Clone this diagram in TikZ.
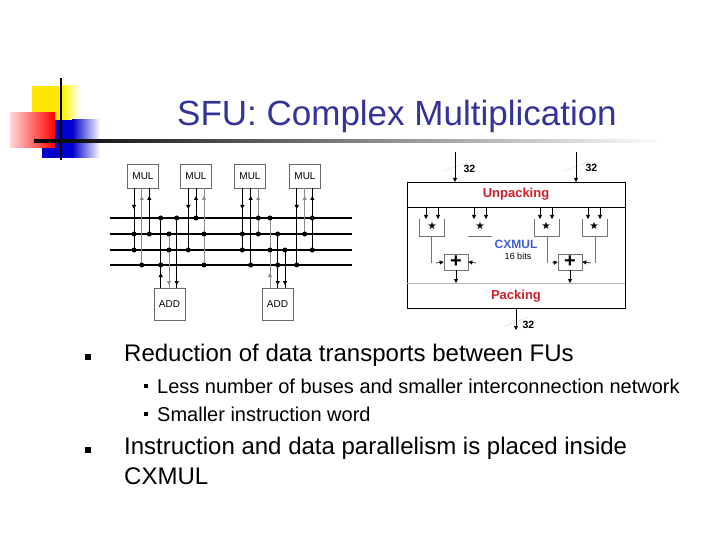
\documentclass[tikz,border=0pt]{standalone}
\usepackage{fontspec}
\setmainfont{Liberation Sans}
\usepackage{amssymb}
\usetikzlibrary{arrows.meta}
\definecolor{ttl}{HTML}{333399}
\definecolor{redt}{HTML}{CC1F2A}
\definecolor{bluet}{HTML}{3F5FCF}
\begin{document}
\begin{tikzpicture}[x=1pt,y=-1pt,
  box/.style={draw=black!60,line width=0.6pt,fill=white},
  bus/.style={line width=1.1pt},
  wire/.style={line width=0.8pt},
  gwire/.style={line width=0.6pt,black!45},
  dot/.style={circle,fill=black,inner sep=0pt,minimum size=5pt},
  ar/.style={-{Triangle[length=4pt,width=4pt]}},
  cx/.style={line width=0.8pt},
  thin/.style={draw=black!55,line width=0.5pt},
  bul/.style={fill=black,inner sep=0pt,minimum size=5.5pt},
  txt/.style={anchor=west,inner sep=0pt}]
\useasboundingbox (0,0) rectangle (720,540);
% decoration
\fill[yellow!90!orange] (32,86) rectangle (62,120);
\shade[left color=yellow!90!orange,right color=white] (62,86) rectangle (80,120);
\fill[blue!80!black] (42,120) rectangle (72,158);
\shade[left color=blue!80!black,right color=white] (72,120) rectangle (100,158);
\shade[left color=red!15,right color=red] (10,113) rectangle (55,148);
\draw[line width=2.2pt] (61,78) -- (61,160);
\shade[left color=black,right color=white] (34,140) rectangle (665,142.5);
\node[font=\fontsize{35}{38}\selectfont,text=ttl] (title) at (397,116) {SFU: Complex Multiplication};
% ===== left diagram
\foreach \n/\x in {m1/143,m2/196,m3/250,m4/305}
  \node[box,minimum width=31pt,minimum height=24pt,font=\fontsize{10}{12}\selectfont] (\n) at (\x,176) {MUL};
\foreach \n/\x in {a1/169.5,a2/277.5}
  \node[box,minimum width=31pt,minimum height=32pt,font=\fontsize{10}{12}\selectfont] (\n) at (\x,304) {ADD};
\foreach \y/\w in {218/1.6pt,234/1.1pt,250/1.6pt,265/1.1pt}
  \draw[line width=\w] (110,\y) -- (352,\y);
\foreach \x/\b/\s in {134/250/wire,188.3/250/wire,242.3/250/wire,296.7/265/wire}{
  \draw[\s] (\x,188) -- (\x,\b);
  \draw[ar,\s] (\x,200) -- (\x,209);}
\foreach \x/\b/\s in {141.7/265/gwire,149.3/234/wire,196/218/wire,204/265/gwire,250.7/265/wire,258.3/234/gwire,304.7/234/gwire,312.3/250/wire}{
  \draw[\s] (\x,188) -- (\x,\b);
  \draw[ar,\s] (\x,204) -- (\x,196);}
\foreach \x/\t/\s in {160.7/218/wire,270/218/gwire}{
  \draw[\s] (\x,\t) -- (\x,288);
  \draw[ar,\s] (\x,281) -- (\x,273);}
\foreach \x/\t/\s in {169/234/gwire,176.7/218/wire,277.7/234/wire,285/250/wire}{
  \draw[\s] (\x,\t) -- (\x,288);
  \draw[ar,\s] (\x,276) -- (\x,285);}
\foreach \x/\y in {134/234,134/250,141.7/265,149.3/234,160.7/218,160.7/265,169/234,169/250,176.7/218,188.3/250,196/218,204/234,204/265,
  242.3/234,242.3/250,250.7/265,258.3/218,258.3/234,270/218,270/250,277.7/234,277.7/265,285/250,296.7/265,304.7/234,312.3/218,312.3/250}
  \node[dot] at (\x,\y) {};
% ===== CXMUL
\draw[line width=0.9pt] (407,182) rectangle (625,308);
\draw[line width=0.9pt] (407,207) -- (625,207);
\draw[black!30,line width=0.5pt] (407,283) -- (625,283);
\node[text=redt,font=\bfseries\fontsize{13}{15}\selectfont] (unp) at (516,194) {Unpacking};
\node[text=redt,font=\bfseries\fontsize{13}{15}\selectfont] (pck) at (516,296) {Packing};
\node[text=bluet,font=\bfseries\fontsize{12}{14}\selectfont,inner sep=0pt] (cxm) at (516,244) {CXMUL};
\node[font=\fontsize{9}{10}\selectfont,inner sep=0pt] (bits) at (518,256) {16 bits};
\coordinate (i1) at (455,152); \coordinate (i2) at (576,152); \coordinate (o1) at (516,330);
\draw[cx,ar] (i1) -- (455,182);
\draw[cx,ar] (i2) -- (576,182);
\draw[cx,ar] (516,308) -- (o1);
\draw[black!40,densely dotted] (444,171) -- (468,162);
\draw[black!40,densely dotted] (564,171) -- (588,162);
\draw[black!40,densely dotted] (505,326) -- (528,317);
\node[font=\bfseries\fontsize{10.5}{11}\selectfont,anchor=west] (l1) at (460,169) {32};
\node[font=\bfseries\fontsize{10.5}{11}\selectfont,anchor=west] (l2) at (582,168) {32};
\node[font=\bfseries\fontsize{10.5}{11}\selectfont,anchor=west] (l3) at (519,325) {32};
\foreach \x in {419,534,582}
  \draw[thin] (\x,219) -- (\x,236) -- (\x+25,236) -- (\x+25,219);
\draw[thin] (468,236) -- (492,236);
\foreach \c/\x in {s1/432,s2/480,s3/546,s4/594}{
  \node[font=\fontsize{9}{9}\selectfont,inner sep=0pt] (\c) at (\x,226) {$\bigstar$};
  \draw[ar,line width=0.6pt] (\x-6,207) -- (\x-6,219);
  \draw[ar,line width=0.6pt] (\x+6,207) -- (\x+6,219);}
\node[draw=black!55,line width=0.6pt,minimum width=24pt,minimum height=16pt,font=\bfseries\fontsize{20}{20}\selectfont,inner sep=0pt] (p1) at (456,262) {+};
\node[draw=black!55,line width=0.6pt,minimum width=24pt,minimum height=16pt,font=\bfseries\fontsize{20}{20}\selectfont,inner sep=0pt] (p2) at (570,262) {+};
\draw[thin] (431,236) -- (431,263);
\draw[ar,line width=0.6pt] (436,263) -- (p1.west);
\draw[ar,line width=0.6pt] (476,263) -- (p1.east);
\draw[thin] (547,236) -- (547,263);
\draw[ar,line width=0.6pt] (552,263) -- (p2.west);
\draw[thin] (595,236) -- (595,263);
\draw[ar,line width=0.6pt] (591,263) -- (p2.east);
\draw[ar,line width=0.6pt] (p1.south) -- (456,283);
\draw[ar,line width=0.6pt] (p2.south) -- (570,283);
% ===== bullets
\node[bul] (b1) at (88,357) {};
\node[txt,font=\fontsize{24}{28}\selectfont] (t1) at (124,355) {Reduction of data transports between FUs};
\node[bul,minimum size=4.5pt] (b2) at (146,386) {};
\node[txt,font=\fontsize{20}{24}\selectfont] (t2) at (157,386) {Less number of buses and smaller interconnection network};
\node[bul,minimum size=4.5pt] (b3) at (146,414) {};
\node[txt,font=\fontsize{20}{24}\selectfont] (t3) at (157,414) {Smaller instruction word};
\node[bul] (b4) at (88,450) {};
\node[txt,font=\fontsize{24}{28}\selectfont] (t4) at (124,448) {Instruction and data parallelism is placed inside};
\node[txt,font=\fontsize{24}{28}\selectfont] (t5) at (124,476) {CXMUL};
\end{tikzpicture}
\end{document}
